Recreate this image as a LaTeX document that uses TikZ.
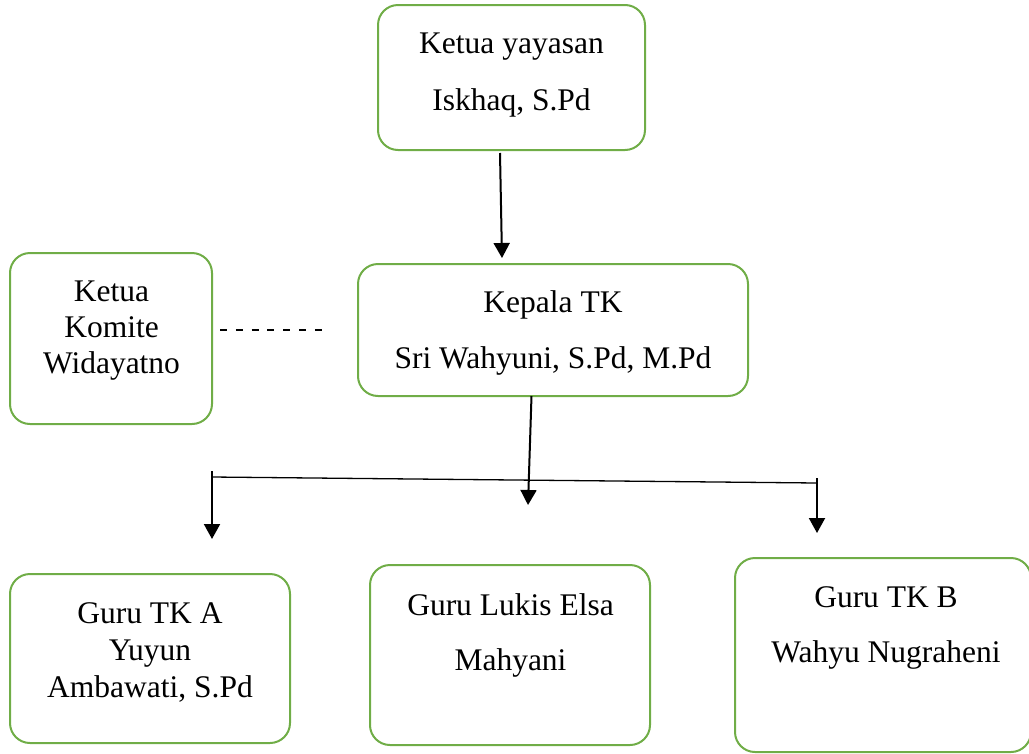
\documentclass[tikz,border=0pt]{standalone}
\usepackage{fontspec}
\setmainfont{Liberation Serif}
\usetikzlibrary{arrows.meta}
\definecolor{boxgreen}{HTML}{70AD47}
\tikzset{
  orgbox/.style={draw=boxgreen, line width=2pt, rounded corners=20pt, rectangle, inner sep=0pt},
  txt/.style={inner sep=0pt, anchor=base, font=\fontsize{31.5}{36}\selectfont},
  arr/.style={line width=2pt, -{Triangle[width=16pt,length=15pt]}},
  thinline/.style={line width=1.3pt},
  dashline/.style={line width=2.6pt, dash pattern=on 7pt off 8.8pt}
}
\begin{document}
\begin{tikzpicture}[x=1pt,y=-1pt]
\useasboundingbox (0,0) rectangle (1029,753);
\clip (0,0) rectangle (1029,753);
% boxes
\node[orgbox, minimum width=267pt, minimum height=145pt] (top) at (511.5,77.5) {};
\node[orgbox, minimum width=202pt, minimum height=171pt] (komite) at (111,338.5) {};
\node[orgbox, minimum width=390pt, minimum height=132pt] (kepala) at (553,330) {};
\node[orgbox, minimum width=280pt, minimum height=169pt] (tka) at (150,658.5) {};
\node[orgbox, minimum width=280pt, minimum height=180pt] (lukis) at (510,655) {};
\node[orgbox, minimum width=296pt, minimum height=194pt] (tkb) at (883,655) {};
% texts
\node[txt] (top1) at (511.5,53) {Ketua yayasan};
\node[txt] (top2) at (511.5,110) {Iskhaq, S.Pd};
\node[txt] (kom1) at (111.5,301) {Ketua};
\node[txt] (kom2) at (111.5,337) {Komite};
\node[txt] (kom3) at (111.5,373) {Widayatno};
\node[txt] (kep1) at (553,312) {Kepala TK};
\node[txt] (kep2) at (553,368) {Sri Wahyuni, S.Pd, M.Pd};
\node[txt] (tka1) at (150,623) {Guru TK A};
\node[txt] (tka2) at (150,660) {Yuyun};
\node[txt] (tka3) at (150,697) {Ambawati, S.Pd};
\node[txt] (luk1) at (510.5,615) {Guru Lukis Elsa};
\node[txt] (luk2) at (510.5,670) {Mahyani};
\node[txt] (tkb1) at (886,607) {Guru TK B};
\node[txt] (tkb2) at (886,662) {Wahyu Nugraheni};
% connector points
\coordinate (a1s) at (500,153);
\coordinate (a1e) at (502,258);
\coordinate (a2s) at (531.5,396);
\coordinate (a2e) at (528,505);
\coordinate (hl) at (212,477);
\coordinate (hr) at (817,483);
\coordinate (a3s) at (212,471);
\coordinate (a3e) at (212,539);
\coordinate (a4s) at (817,478);
\coordinate (a4e) at (817,533);
\coordinate (ds) at (220,330);
\coordinate (de) at (323,330);
% connectors
\draw[arr] (a1s) -- (a1e);
\draw[arr] (a2s) -- (a2e);
\draw[thinline] (hl) -- (hr);
\draw[arr] (a3s) -- (a3e);
\draw[arr] (a4s) -- (a4e);
\draw[dashline] (ds) -- (de);
\end{tikzpicture}
\end{document}
